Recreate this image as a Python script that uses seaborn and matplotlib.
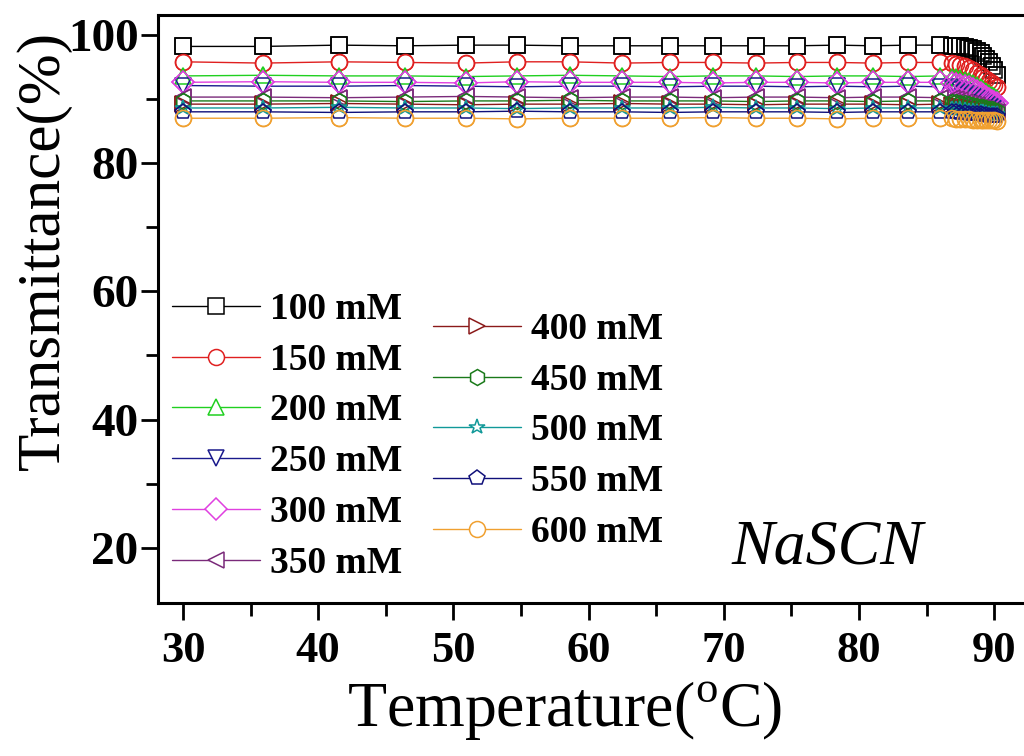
import pandas as pd
import matplotlib
matplotlib.use("Agg")
import matplotlib.pyplot as plt
import seaborn as sns
from matplotlib.ticker import MultipleLocator

# Temperature points (dense near the end of the heating run)
temperature = [30.0, 35.9, 41.5, 46.4, 50.9, 54.7, 58.6, 62.5, 66.0, 69.2,
               72.4, 75.4, 78.4, 81.0, 83.6, 86.0, 86.9, 87.2, 87.5, 87.8,
               88.1, 88.4, 88.7, 89.0, 89.2, 89.4, 89.6, 89.8, 90.0, 90.2]

labels = ["100 mM", "150 mM", "200 mM", "250 mM", "300 mM", "350 mM",
          "400 mM", "450 mM", "500 mM", "550 mM", "600 mM"]

# Transmittance (%) for each NaSCN concentration
c100 = [98.2, 98.2, 98.4, 98.3, 98.4, 98.4, 98.3, 98.3, 98.3, 98.3,
        98.3, 98.3, 98.4, 98.3, 98.4, 98.4, 98.3, 98.3, 98.2, 98.1,
        98.0, 97.8, 97.5, 97.1, 96.7, 96.3, 95.8, 95.2, 94.6, 93.8]
c150 = [95.8, 95.6, 95.8, 95.7, 95.6, 95.8, 95.8, 95.6, 95.7, 95.7,
        95.6, 95.7, 95.7, 95.6, 95.7, 95.7, 95.6, 95.5, 95.3, 95.1,
        94.8, 94.5, 94.1, 93.7, 93.4, 93.1, 92.8, 92.5, 92.2, 91.9]
c200 = [93.6, 93.7, 93.6, 93.6, 93.5, 93.6, 93.7, 93.6, 93.5, 93.6,
        93.6, 93.5, 93.6, 93.6, 93.5, 93.6, 93.5, 93.4, 93.2, 93.0,
        92.8, 92.5, 92.2, 91.9, 91.6, 91.3, 91.0, 90.7, 90.4, 90.1]
c250 = [92.1, 92.0, 92.0, 92.1, 92.0, 91.9, 92.0, 92.0, 91.9, 92.0,
        92.0, 91.9, 92.0, 91.9, 92.0, 91.9, 91.8, 91.6, 91.4, 91.1,
        90.8, 90.5, 90.2, 89.9, 89.6, 89.3, 89.0, 88.8, 88.6, 88.4]
c300 = [92.6, 92.7, 92.6, 92.6, 92.5, 92.7, 92.6, 92.6, 92.6, 92.5,
        92.6, 92.6, 92.5, 92.6, 92.6, 92.6, 92.5, 92.4, 92.2, 92.0,
        91.8, 91.5, 91.2, 90.9, 90.6, 90.3, 90.0, 89.7, 89.5, 89.3]
c350 = [90.3, 90.3, 90.2, 90.3, 90.4, 90.3, 90.2, 90.3, 90.3, 90.2,
        90.3, 90.3, 90.2, 90.3, 90.3, 90.2, 90.1, 90.0, 89.8, 89.6,
        89.4, 89.2, 89.0, 88.8, 88.6, 88.4, 88.2, 88.1, 88.0, 87.9]
c400 = [89.2, 89.2, 89.3, 89.2, 89.1, 89.2, 89.2, 89.3, 89.2, 89.2,
        89.1, 89.2, 89.2, 89.2, 89.1, 89.2, 89.1, 89.0, 88.9, 88.8,
        88.7, 88.6, 88.5, 88.4, 88.3, 88.2, 88.1, 88.0, 87.9, 87.8]
c450 = [89.7, 89.7, 89.7, 89.6, 89.7, 89.7, 89.8, 89.7, 89.7, 89.7,
        89.6, 89.7, 89.7, 89.6, 89.7, 89.7, 89.6, 89.5, 89.4, 89.3,
        89.2, 89.0, 88.9, 88.8, 88.7, 88.6, 88.5, 88.4, 88.3, 88.2]
c500 = [88.6, 88.6, 88.7, 88.6, 88.6, 88.5, 88.6, 88.6, 88.6, 88.7,
        88.6, 88.6, 88.5, 88.6, 88.6, 88.6, 88.5, 88.5, 88.4, 88.3,
        88.2, 88.1, 88.0, 87.9, 87.9, 87.8, 87.7, 87.7, 87.6, 87.6]
c550 = [88.0, 88.0, 87.9, 88.0, 88.0, 88.1, 88.0, 88.0, 87.9, 88.0,
        88.0, 88.0, 87.9, 88.0, 88.0, 88.0, 87.9, 87.9, 87.8, 87.8,
        87.7, 87.7, 87.6, 87.6, 87.5, 87.5, 87.4, 87.4, 87.3, 87.3]
c600 = [87.0, 87.0, 87.1, 87.0, 87.0, 86.9, 87.0, 87.0, 87.0, 87.1,
        87.0, 87.0, 86.9, 87.0, 87.0, 87.0, 87.0, 86.9, 86.9, 86.9,
        86.9, 86.8, 86.8, 86.8, 86.8, 86.7, 86.7, 86.7, 86.7, 86.6]

series = [c100, c150, c200, c250, c300, c350, c400, c450, c500, c550, c600]

colors = ["#000000", "#e02020", "#20d020", "#1a1a8c", "#e040e0", "#7a2a7a",
          "#8b1a1a", "#1a7a1a", "#119999", "#10107a", "#f0a030"]
markers = ["s", "o", "^", "v", "D", "<", ">", "h", "*", "p", "o"]

sns.set_style("ticks")
plt.rcParams['font.family'] = ['Liberation Serif', 'DejaVu Serif']
plt.rcParams['mathtext.fontset'] = 'custom'
plt.rcParams['mathtext.rm'] = 'Liberation Serif'
for key in ['text.color', 'axes.labelcolor', 'xtick.color', 'ytick.color', 'axes.edgecolor']:
    plt.rcParams[key] = 'black'

fig = plt.figure(figsize=(10.24, 7.56), dpi=100)
ax = fig.add_axes([158 / 1024, 1 - 603 / 756, 1 - 158 / 1024, 588 / 756])

# Lines with white-filled markers (gives the gap round each marker)
handles = []
for lab, vals, col, mk in zip(labels, series, colors, markers):
    df = pd.DataFrame({"T": temperature, "Tr": vals})
    sns.lineplot(data=df, x="T", y="Tr", ax=ax, color=col, marker=mk,
                 markersize=11.5, mfc="white", mec=col, mew=1.1, lw=1.0,
                 legend=False)
    handles.append(ax.lines[-1])

# Hollow markers on top so every outline stays visible
for vals, col, mk in zip(series, colors, markers):
    df = pd.DataFrame({"T": temperature, "Tr": vals})
    sns.lineplot(data=df, x="T", y="Tr", ax=ax, color=col, marker=mk,
                 markersize=11.5, mfc="none", mec=col, mew=1.1, linestyle="",
                 legend=False)

ax.set_xlim(28.15, 92.2)
ax.set_ylim(11.4, 103.1)
ax.xaxis.set_major_locator(MultipleLocator(10))
ax.xaxis.set_minor_locator(MultipleLocator(5))
ax.yaxis.set_major_locator(MultipleLocator(20))
ax.yaxis.set_minor_locator(MultipleLocator(10))

for s in ["left", "bottom", "top"]:
    ax.spines[s].set_linewidth(2.2)
ax.spines["right"].set_visible(False)

ax.tick_params(which="major", length=12, width=2, direction="out")
ax.tick_params(which="minor", length=9, width=2, direction="out")
ax.tick_params(axis="x", labelsize=32, pad=8)
ax.tick_params(axis="y", labelsize=34, pad=2)
for t in ax.get_xticklabels() + ax.get_yticklabels():
    t.set_fontweight("bold")

ax.set_xlabel(r"Temperature($^\mathregular{o}$C)", fontsize=46)
ax.set_ylabel("Transmittance(%)", fontsize=44)
ax.xaxis.set_label_coords(0.47, -0.13)
ax.yaxis.set_label_coords(-0.099, 0.60)

leg_kw = dict(frameon=False, prop=dict(weight="bold", size=27),
              handlelength=2.35, handletextpad=0.27, labelspacing=0.42,
              borderpad=0, borderaxespad=0, loc="upper left")
leg1 = ax.legend(handles[:6], labels[:6], bbox_to_anchor=(0.0162, 0.529), **leg_kw)
ax.add_artist(leg1)
ax.legend(handles[6:], labels[6:], bbox_to_anchor=(0.3176, 0.495), **leg_kw)

ax.text(0.7725, 0.0935, "NaSCN", transform=ax.transAxes, fontsize=46,
        style="italic", ha="center", va="center")

fig.savefig("out.png", dpi=100)
